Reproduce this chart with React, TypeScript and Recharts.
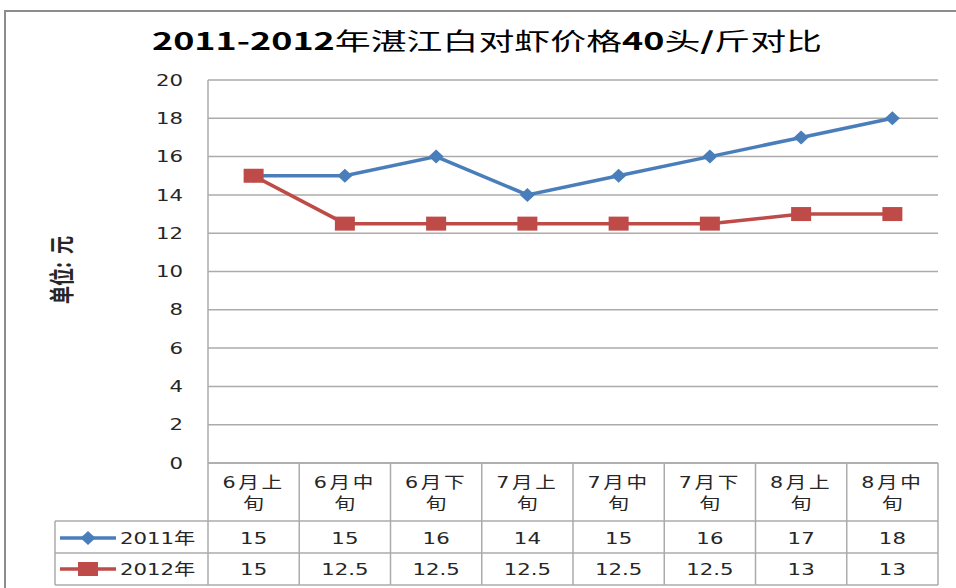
import { CartesianGrid, Line, LineChart, XAxis, YAxis } from 'recharts';

const periods = ['6月上旬', '6月中旬', '6月下旬', '7月上旬', '7月中旬', '7月下旬', '8月上旬', '8月中旬'];
const price2011 = [15, 15, 16, 14, 15, 16, 17, 18];
const price2012 = [15, 12.5, 12.5, 12.5, 12.5, 12.5, 13, 13];
const yTicks = [0, 2, 4, 6, 8, 10, 12, 14, 16, 18, 20];
const seriesNames = ['2011年', '2012年'];
const title = ['2011-2012', '年湛江白对虾价格', '40', '头', '/', '斤对比'];

const W = 956;
const H = 588;
const margin = { top: 80, right: 18, left: 0, bottom: 0 };
const Y_AXIS_W = 208;
const X_AXIS_H = 125;
const colW = (W - margin.left - margin.right - Y_AXIS_W) / periods.length;

const palette = {
  s2011: '#4A7EBB',
  s2012: '#BE4B48',
  grid: '#ABABAB',
  text: '#262626'
};
const FONT = "'DejaVu Sans', 'Noto Sans CJK SC', sans-serif";
const SX = 1.33;

const data = periods.map((period, i) => ({ period, y2011: price2011[i], y2012: price2012[i] }));

// text stretched sideways, as in the original (wide) export
function Wide({ x, y, anchor = 'middle', size = 16, spacing = 0, children }: any) {
  return (
    <text
      transform={`translate(${x},${y}) scale(${SX},1)`}
      textAnchor={anchor}
      dy="0.35em"
      fontSize={size}
      fontFamily={FONT}
      fill={palette.text}
      letterSpacing={spacing}
    >
      {children}
    </text>
  );
}

function Diamond({ cx, cy }: { cx: number; cy: number }) {
  return <path d={`M${cx - 7.5},${cy} L${cx},${cy - 7} L${cx + 7.5},${cy} L${cx},${cy + 7} Z`} fill={palette.s2011} />;
}

function Square({ cx, cy }: { cx: number; cy: number }) {
  return <rect x={cx - 10} y={cy - 7} width={20} height={14} fill={palette.s2012} />;
}

const markers = [Diamond, Square];
const colors = [palette.s2011, palette.s2012];
const rows = [price2011, price2012];

function YTick({ x, y, payload }: any) {
  return <Wide x={x} y={y} anchor="end" size={16}>{payload.value}</Wide>;
}

function TableTick({ x, y, payload, index }: any) {
  const left = x - colW / 2;
  const right = x + colW / 2;
  const label: string = payload.value;
  const rowLines = [58, 90, 122];
  return (
    <g>
      <line x1={right} y1={y} x2={right} y2={y + 122} stroke={palette.grid} strokeWidth={1.5} />
      {index === 0 && <line x1={left} y1={y} x2={left} y2={y + 122} stroke={palette.grid} strokeWidth={1.5} />}
      {rowLines.map((dy) => (
        <line key={dy} x1={index === 0 ? 55 : left} y1={y + dy} x2={right} y2={y + dy} stroke={palette.grid} strokeWidth={1.5} />
      ))}
      <Wide x={x} y={y + 20} size={15.5} spacing={2}>{label.slice(0, 3)}</Wide>
      <Wide x={x} y={y + 41} size={15.5}>{label.slice(3)}</Wide>
      {rows.map((vals, r) => (
        <Wide key={r} x={x} y={y + 75 + r * 31} size={16}>{vals[index]}</Wide>
      ))}
      {index === 0 && (
        <g>
          <line x1={55} y1={y + 58} x2={55} y2={y + 122} stroke={palette.grid} strokeWidth={1.5} />
          {seriesNames.map((name, r) => {
            const cy = y + 75 + r * 31;
            const Marker = markers[r];
            return (
              <g key={name}>
                <line x1={60} y1={cy} x2={116} y2={cy} stroke={colors[r]} strokeWidth={3.5} />
                <Marker cx={88} cy={cy} />
                <Wide x={120} y={cy} anchor="start" size={16}>{name}</Wide>
              </g>
            );
          })}
        </g>
      )}
    </g>
  );
}

function YLabel() {
  return (
    <text
      transform="translate(62,270) scale(1.4,1) rotate(-90)"
      textAnchor="middle"
      dy="0.35em"
      fontSize={18}
      fontWeight={600}
      fontFamily="'Noto Sans CJK SC', sans-serif"
      fill={palette.text}
      style={{ whiteSpace: 'pre' }}
    >
      {'单位:  元'}
    </text>
  );
}

export default function App() {
  return (
    <div style={{ position: 'absolute', left: 0, top: 0, width: W, height: H, background: '#fff', overflow: 'hidden' }}>
      <div
        style={{
          position: 'absolute',
          left: 4,
          top: 10,
          width: W - 4,
          height: H,
          borderLeft: '2px solid #8C8C8C',
          borderTop: '2px solid #8C8C8C',
          boxSizing: 'border-box'
        }}
      />
      <div style={{ position: 'absolute', left: 0, top: 0 }}>
        <LineChart width={W} height={H} data={data} margin={margin}>
          <CartesianGrid vertical={false} stroke={palette.grid} strokeWidth={1.5} />
          <XAxis
            dataKey="period"
            scale="band"
            height={X_AXIS_H}
            interval={0}
            tickSize={0}
            tickMargin={0}
            tickLine={false}
            axisLine={{ stroke: palette.grid, strokeWidth: 1.5 }}
            tick={<TableTick />}
          />
          <YAxis
            width={Y_AXIS_W}
            domain={[0, 20]}
            ticks={yTicks}
            interval={0}
            tickSize={0}
            tickMargin={25}
            tickLine={false}
            axisLine={{ stroke: palette.grid, strokeWidth: 1.5 }}
            tick={<YTick />}
            label={<YLabel />}
          />
          <Line
            type="linear"
            dataKey="y2011"
            stroke={palette.s2011}
            strokeWidth={3.5}
            dot={(p: any) => <Diamond key={`d${p.index}`} cx={p.cx} cy={p.cy} />}
            activeDot={false}
            isAnimationActive={false}
          />
          <Line
            type="linear"
            dataKey="y2012"
            stroke={palette.s2012}
            strokeWidth={3.5}
            dot={(p: any) => <Square key={`s${p.index}`} cx={p.cx} cy={p.cy} />}
            activeDot={false}
            isAnimationActive={false}
          />
        </LineChart>
      </div>
      <svg width={W} height={70} style={{ position: 'absolute', left: 0, top: 0, pointerEvents: 'none' }}>
        <text
          x={487}
          y={50}
          textAnchor="middle"
          textLength={670}
          lengthAdjust="spacingAndGlyphs"
          fontSize={24}
          fontFamily="'Noto Sans CJK SC', sans-serif"
          fill="#000"
        >
          {title.map((part, i) => (
            <tspan key={i} fontWeight={/[0-9/]/.test(part) ? 700 : 400}>{part}</tspan>
          ))}
        </text>
      </svg>
    </div>
  );
}
